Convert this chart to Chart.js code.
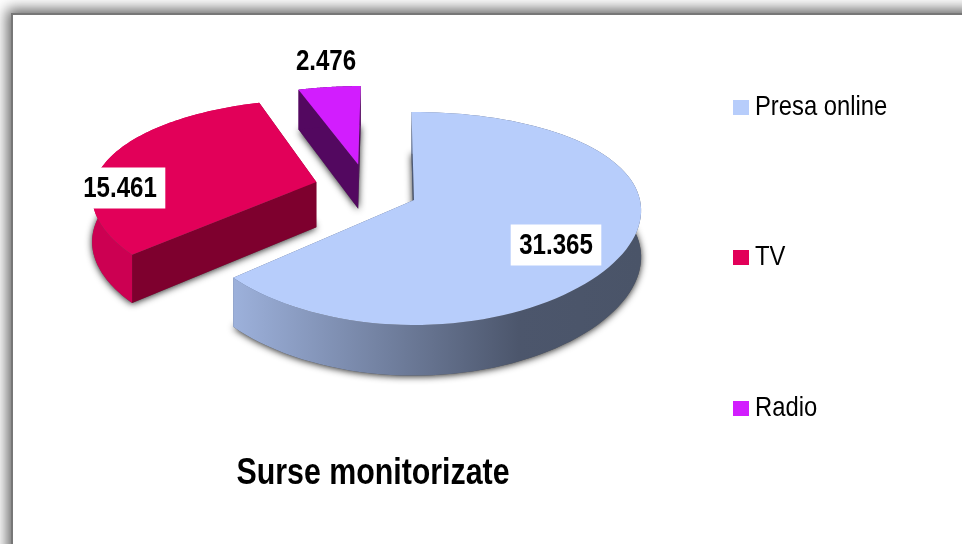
<!DOCTYPE html>
<html>
<head>
<meta charset="utf-8">
<style>
html,body{margin:0;padding:0;background:#fff;width:962px;height:544px;overflow:hidden}
#frame{position:absolute;left:11px;top:13px;width:2000px;height:2000px;box-sizing:border-box;border:2px solid #777;background:#fff;box-shadow:0 0 13px 4px #666}
#wrap{position:absolute;left:0;top:0;width:962px;height:544px}
</style>
<script src="https://cdn.jsdelivr.net/npm/chart.js@4/dist/chart.umd.min.js"></script>
</head>
<body>
<div id="frame"></div>
<div id="wrap"><canvas id="c" width="962" height="544"></canvas></div>
<script>
const categories = ['Presa online', 'TV', 'Radio'];
const values = [31365, 15461, 2476];
const valueLabels = ['31.365', '15.461', '2.476'];
const chartTitle = 'Surse monitorizate';
const topColors = ['#B7CDFB', '#E20059', '#D21DFE'];
const rimColors = [null, '#CC0052', '#530860'];
const faceColors = ['#4C5A78', '#7E002E', '#530860'];

const FONT = '"Liberation Sans",sans-serif';
// projection of the unit disc onto the page (style constants)
const VIEW = {cx: 414, cy: 200, bx: 226, ay: 103.3, p: 0.1737, px: 0.1, depth: 46};
const EXPLODE = [[0, 0], [-0.44, -0.18], [-0.256, -0.365]];
const LABEL_ANCHORS = [[556, 245], [120, 188], [326, 61]];
const LABEL_SQUEEZE = 0.83, LEGEND_SQUEEZE = 0.865, TITLE_SQUEEZE = 0.82;
const LEGEND_POS = {x: 733, ys: [107.5, 257.5, 408.5], box: [16, 15], gap: 6};

function project(u, v) {
  return [VIEW.cx + VIEW.bx * u / (1 - VIEW.px * v), VIEW.cy + VIEW.ay * v / (1 - VIEW.p * v)];
}
function depthAt(v) { return VIEW.depth * (1 + 0.1 * v); }

function sliceGeom(el, i) {
  const [ox, oy] = EXPLODE[i];
  const a0 = el.startAngle, a1 = el.endAngle;
  const n = 96, rim = [];
  for (let k = 0; k <= n; k++) {
    const a = a0 + (a1 - a0) * k / n;
    rim.push([ox + Math.cos(a), oy + Math.sin(a)]);
  }
  return {apex: [ox, oy], rim};
}
function pathTop(ctx, pts, drop) {
  ctx.beginPath();
  pts.forEach((p, i) => {
    const q = project(p[0], p[1]);
    const y = q[1] + (drop ? depthAt(p[1]) : 0);
    i ? ctx.lineTo(q[0], y) : ctx.moveTo(q[0], y);
  });
  ctx.closePath();
}
function pathWall(ctx, pts) {
  ctx.beginPath();
  pts.forEach((p, i) => { const q = project(p[0], p[1]); i ? ctx.lineTo(q[0], q[1]) : ctx.moveTo(q[0], q[1]); });
  for (let i = pts.length - 1; i >= 0; i--) {
    const q = project(pts[i][0], pts[i][1]);
    ctx.lineTo(q[0], q[1] + depthAt(pts[i][1]));
  }
  ctx.closePath();
}
function squeezedText(ctx, t, x, y, sx) {
  ctx.save();
  ctx.translate(x, y);
  ctx.scale(sx, 1);
  ctx.fillText(t, 0, 0);
  ctx.restore();
}

const pie3d = {
  id: 'pie3d',
  beforeDraw(chart) {
    const tb = chart.titleBlock;
    if (tb && !tb._squeezed) {
      const orig = tb.draw.bind(tb);
      tb.draw = function () {
        const ctx = chart.ctx, mid = tb.left + tb.width / 2;
        ctx.save();
        ctx.translate(mid, 0);
        ctx.scale(TITLE_SQUEEZE, 1);
        ctx.translate(-mid, 0);
        orig();
        ctx.restore();
      };
      tb._squeezed = true;
    }
  },
  beforeDatasetDraw(chart) {
    const ctx = chart.ctx;
    const arcs = chart.getDatasetMeta(0).data;
    [2, 1, 0].forEach(i => {
      const g = sliceGeom(arcs[i], i);
      const outline = [g.apex, ...g.rim];
      // soft shadow cast by the bottom face
      ctx.save();
      ctx.shadowColor = 'rgba(0,0,0,0.85)';
      ctx.shadowBlur = 7;
      ctx.shadowOffsetY = 1;
      ctx.fillStyle = '#555';
      pathTop(ctx, outline, true); ctx.fill();
      ctx.restore();
      // radial walls
      ctx.fillStyle = faceColors[i];
      pathWall(ctx, [g.apex, g.rim[g.rim.length - 1]]); ctx.fill();
      pathWall(ctx, [g.apex, g.rim[0]]); ctx.fill();
      // outer wall
      if (rimColors[i]) {
        ctx.fillStyle = rimColors[i];
      } else {
        const grad = ctx.createLinearGradient(236, 0, 640, 0);
        grad.addColorStop(0, '#9CB0DA');
        grad.addColorStop(0.7, '#4C566C');
        grad.addColorStop(1, '#4A5468');
        ctx.fillStyle = grad;
      }
      pathWall(ctx, g.rim); ctx.fill();
      // top face
      ctx.fillStyle = topColors[i];
      pathTop(ctx, outline, false); ctx.fill();
    });
    return false;
  },
  afterDatasetsDraw(chart) {
    const ctx = chart.ctx;
    ctx.save();
    ctx.font = 'bold 29px ' + FONT;
    ctx.textAlign = 'center';
    ctx.textBaseline = 'middle';
    valueLabels.forEach((t, i) => {
      const [x, y] = LABEL_ANCHORS[i];
      const w = ctx.measureText(t).width * LABEL_SQUEEZE + 17;
      ctx.fillStyle = '#fff';
      ctx.fillRect(x - w / 2, y - 20.5, w, 41);
      ctx.fillStyle = '#000';
      squeezedText(ctx, t, x, y + 1, LABEL_SQUEEZE);
    });
    // legend
    ctx.font = '27.5px ' + FONT;
    ctx.textAlign = 'left';
    categories.forEach((t, i) => {
      const y = LEGEND_POS.ys[i];
      ctx.fillStyle = topColors[i];
      ctx.fillRect(LEGEND_POS.x, y - LEGEND_POS.box[1] / 2, LEGEND_POS.box[0], LEGEND_POS.box[1]);
      ctx.fillStyle = '#000';
      squeezedText(ctx, t, LEGEND_POS.x + LEGEND_POS.box[0] + LEGEND_POS.gap, y, LEGEND_SQUEEZE);
    });
    ctx.restore();
  }
};

new Chart(document.getElementById('c'), {
  type: 'pie',
  data: {labels: categories, datasets: [{data: values, backgroundColor: topColors, borderWidth: 0}]},
  plugins: [pie3d],
  options: {
    responsive: false,
    animation: false,
    rotation: -0.7,
    layout: {padding: {right: 216, bottom: 48}},
    events: [],
    plugins: {
      legend: {display: false},
      tooltip: {enabled: false},
      title: {display: true, text: chartTitle, position: 'bottom', color: '#000',
        font: {family: FONT, size: 37, weight: 'bold'}, padding: 0}
    }
  }
});
</script>
</body>
</html>
